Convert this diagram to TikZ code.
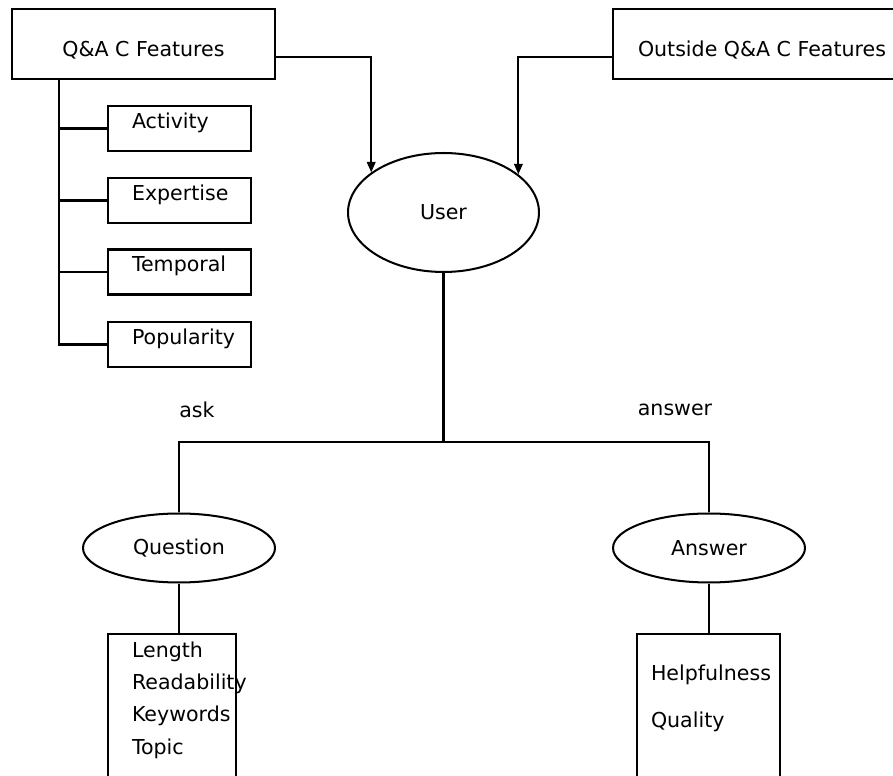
\documentclass[tikz,border=0pt]{standalone}
\usepackage{fontspec}
\setmainfont{DejaVu Sans}
\usepackage{tikz}
\usetikzlibrary{calc,shapes,positioning}
\usetikzlibrary{arrows.meta}
\tikzset{>={Triangle[width=1.7mm,length=2.1mm]}}

\begin{document}
\begin{tikzpicture}[x=0.02cm,y=-0.02cm,line width=1.15pt,font=\fontsize{11.7pt}{14pt}\selectfont]
        \useasboundingbox (0,0) rectangle (893,776);

          \tikzstyle{tbox} = [draw, rectangle, minimum height=1.4cm, inner sep=0pt, text height=14pt, text depth=0pt]
          \tikzstyle{fbox} = [draw, rectangle, minimum width=2.86cm, minimum height=0.9cm, text width=1.9cm, inner xsep=0.48cm, align=left, text height=9pt, text depth=9pt]
          \tikzstyle{enode} = [draw, ellipse, inner sep=0pt]
          \tikzstyle{abox} = [draw, rectangle, minimum height=3.32cm]
          \tikzstyle{ltxt} = [anchor=north west, inner sep=0pt, align=left]

          \node[tbox, minimum width=5.26cm] (qac) at (143.5,44) {Q\&A C Features};
          \node[tbox, minimum width=5.96cm] (oqac) at (762,44) {Outside Q\&A C Features};

          \node[fbox] (fact) at (179.5,128.5) {Activity};
          \node[fbox] (fexp) at (179.5,200.5) {Expertise};
          \node[fbox] (ftmp) at (179.5,272) {Temporal};
          \node[fbox] (fpop) at (179.5,344.5) {Popularity};

          \node[enode, minimum width=3.82cm, minimum height=2.38cm] (user) at (443.5,212.5) {User};

          \node (lask) at (197,410) {ask};
          \node (lanswer) at (675,410) {answer};

          \node[enode, minimum width=3.84cm, minimum height=1.38cm] (question) at (179,548) {Question};
          \node[enode, minimum width=3.84cm, minimum height=1.38cm] (answer) at (709,548) {Answer};

          \node[abox, minimum width=2.56cm] (qbox) at (172,717) {};
          \node[abox, minimum width=2.86cm] (ansbox) at (708.5,717) {};

          \node[ltxt, font=\fontsize{11.7pt}{18.3pt}\selectfont] (qlist) at (131,641) {Length\\Readability\\Keywords\\Topic};
          \node[ltxt, font=\fontsize{11.7pt}{26.6pt}\selectfont] (alist) at (650,664) {Helpfulness\\Quality};

          \coordinate (trunk) at (59,79);
          \coordinate (split) at ($(user.south)+(0,169)$);

          \draw[->] ($(qac.east)+(0,13)$) -| (user.151);
          \draw[->] ($(oqac.west)+(0,13)$) -| (user.27);

          \draw[-] (trunk) |- (fpop.west);
          \foreach \f in {fact,fexp,ftmp}
            \draw[-] (\f.west) -- (\f.west -| trunk);

          \draw[-] (user.south) -- (split);
          \draw[-] (question.north) |- (split) -| (answer.north);

          \draw[-] (question.south) -- (question.south |- qbox.north);
          \draw[-] (answer.south) -- (answer.south |- ansbox.north);

\end{tikzpicture}
\end{document}
